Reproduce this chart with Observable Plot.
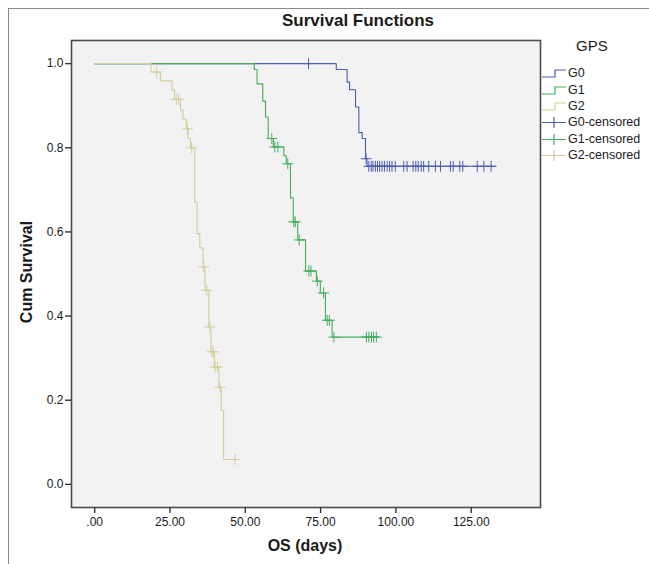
<!DOCTYPE html>
<html>
<head>
<meta charset="utf-8">
<script src="https://cdn.jsdelivr.net/npm/d3@7"></script>
<script src="https://cdn.jsdelivr.net/npm/@observablehq/plot@0.6"></script>
<style>
  html, body { margin: 0; padding: 0; background: #fff; }
  #wrap { position: relative; width: 649px; height: 564px; overflow: hidden; font-family: "Liberation Sans", Arial, sans-serif; color: #1a1a1a; }
  #frame { position: absolute; left: 8px; top: 8px; width: 700px; height: 700px; border: 1px solid #8a8a8a; box-sizing: border-box; }
  #title { position: absolute; left: 258px; width: 200px; top: 11px; text-align: center; font-weight: bold; font-size: 17px; }
  #xlabel { position: absolute; left: 205px; width: 200px; top: 537px; text-align: center; font-weight: bold; font-size: 16px; }
  #ylabel { position: absolute; left: 27px; top: 272px; transform: translate(-50%, -50%) rotate(-90deg); font-weight: bold; font-size: 16px; white-space: nowrap; }
  #legend { position: absolute; left: 541px; top: 37px; font-size: 12.5px; }
  #legend .head { font-size: 15px; margin-left: 35px; margin-bottom: 11px; }
  #legend .row { display: flex; align-items: center; height: 16.4px; }
  #legend svg { width: 26px; height: 14px; margin-right: 1px; }
  #chart { position: absolute; left: 0; top: 0; }
</style>
</head>
<body>
<div id="wrap">
  <div id="frame"></div>
  <div id="chart"></div>
  <div id="title">Survival Functions</div>
  <div id="xlabel">OS (days)</div>
  <div id="ylabel">Cum Survival</div>
  <div id="legend"></div>
</div>
<script>
// ---- data ----
const groups = ["G0", "G1", "G2"];
const groupColors = ["#4d5eae", "#46ad5a", "#d3cd9a"];
const legendTitle = "GPS";
const legendLabels = ["G0", "G1", "G2", "G0-censored", "G1-censored", "G2-censored"];

const xTicks = [0, 25, 50, 75, 100, 125];
const xTickLabels = [".00", "25.00", "50.00", "75.00", "100.00", "125.00"];
const yTicks = [0, 0.2, 0.4, 0.6, 0.8, 1.0];
const yTickLabels = ["0.0", "0.2", "0.4", "0.6", "0.8", "1.0"];

// G0
const g0EventTimes = [80.2, 83.8, 84.6, 86.6, 87.7, 88.8, 89.9, 90.4];
const g0Survival   = [0.986, 0.956, 0.938, 0.897, 0.836, 0.822, 0.774, 0.756];
const g0Censored   = [71.0, 90.1, 91.0, 91.8, 92.4, 93.2, 93.9, 94.6, 95.4, 96.2, 97.1, 97.9, 98.7, 99.8,
                      102.6, 103.7, 105.7, 106.6, 107.4, 108.4, 109.2, 110.9, 113.1, 114.8, 118.1, 119.0,
                      121.2, 122.2, 127.0, 129.2, 131.6];
const g0LastTime   = 133.0;

// G1
const g1EventTimes = [53.0, 53.9, 55.8, 56.7, 57.6, 59.3, 62.8, 63.6, 65.0, 65.9, 67.4, 70.0, 73.6, 74.9, 76.6, 78.8];
const g1Survival   = [0.986, 0.952, 0.911, 0.873, 0.822, 0.802, 0.781, 0.762, 0.681, 0.624, 0.581, 0.507, 0.483, 0.455, 0.390, 0.350];
const g1Censored   = [58.8, 59.8, 60.8, 64.1, 66.1, 66.6, 67.9, 71.1, 71.8, 73.9, 76.0, 77.2, 77.9, 79.4,
                      90.2, 91.0, 91.9, 92.6, 93.5];
const g1LastTime   = 94.3;

// G2
const g2EventTimes = [18.7, 21.8, 25.7, 26.5, 28.5, 29.3, 30.4, 31.0, 31.8, 33.2, 34.0, 34.9, 36.0, 36.6, 37.9, 38.6, 39.7, 41.2, 42.0, 42.8];
const g2Survival   = [0.980, 0.959, 0.937, 0.915, 0.890, 0.868, 0.845, 0.822, 0.800, 0.671, 0.596, 0.562, 0.517, 0.461, 0.374, 0.315, 0.279, 0.231, 0.176, 0.059];
const g2Censored   = [20.6, 27.1, 27.9, 30.8, 32.2, 36.2, 37.2, 38.2, 38.9, 39.4, 40.0, 40.8, 41.6, 46.6];
const g2LastTime   = 47.1;

// ---- build tables ----
const series = [
  {g: "G0", ev: g0EventTimes, s: g0Survival, c: g0Censored, last: g0LastTime},
  {g: "G1", ev: g1EventTimes, s: g1Survival, c: g1Censored, last: g1LastTime},
  {g: "G2", ev: g2EventTimes, s: g2Survival, c: g2Censored, last: g2LastTime}
];
const stepRows = [];
const censorRows = [];
for (const d of series) {
  stepRows.push({g: d.g, t: 0, s: 1});
  d.ev.forEach((t, i) => stepRows.push({g: d.g, t, s: d.s[i]}));
  stepRows.push({g: d.g, t: d.last, s: d.s[d.s.length - 1]});
  const survAt = t => { let v = 1; d.ev.forEach((e, i) => { if (e <= t) v = d.s[i]; }); return v; };
  d.c.forEach(t => censorRows.push({g: d.g, t, s: survAt(t)}));
}

const chart = Plot.plot({
  width: 649,
  height: 564,
  marginLeft: 71,
  marginRight: 109,
  marginTop: 40,
  marginBottom: 57,
  style: {fontFamily: "Liberation Sans, Arial, sans-serif", fontSize: "12px", color: "#1a1a1a", background: "transparent"},
  x: {domain: [-7.7, 148]},
  y: {domain: [-0.055, 1.055]},
  color: {domain: groups, range: groupColors},
  marks: [
    Plot.frame({fill: "#f1f2f1", stroke: null}),
    Plot.line(stepRows, {x: "t", y: "s", z: "g", stroke: "g", curve: "step-after", strokeWidth: 1.1}),
    Plot.dot(censorRows, {x: "t", y: "s", stroke: "g", symbol: "plus", r: 3.6, strokeWidth: 1}),
    Plot.frame({stroke: "#4a4a4a", strokeWidth: 1.6}),
    Plot.axisX({ticks: xTicks, tickFormat: (d) => xTickLabels[xTicks.indexOf(d)], tickSize: 6, tickPadding: 4, label: null, fontSize: 12, stroke: "#333", strokeWidth: 1.4}),
    Plot.axisY({ticks: yTicks, tickFormat: (d) => yTickLabels[yTicks.findIndex(v => Math.abs(v - d) < 1e-9)], tickSize: 6, tickPadding: 2, label: null, fontSize: 12, stroke: "#333", strokeWidth: 1.4})
  ]
});
document.getElementById("chart").appendChild(chart);

// ---- legend ----
const legend = document.getElementById("legend");
const head = document.createElement("div");
head.className = "head";
head.textContent = legendTitle;
legend.appendChild(head);
legendLabels.forEach((lab, i) => {
  const c = groupColors[i % 3];
  const row = document.createElement("div");
  row.className = "row";
  const ns = "http://www.w3.org/2000/svg";
  const svg = document.createElementNS(ns, "svg");
  svg.setAttribute("viewBox", "0 0 26 14");
  const p = document.createElementNS(ns, "path");
  p.setAttribute("fill", "none");
  p.setAttribute("stroke", c);
  p.setAttribute("stroke-width", "1.2");
  if (i < 3) p.setAttribute("d", "M1,11 H14 V4 H25");
  else p.setAttribute("d", "M1,7.5 H25 M13,2 V13");
  svg.appendChild(p);
  row.appendChild(svg);
  const t = document.createElement("span");
  t.textContent = lab;
  row.appendChild(t);
  legend.appendChild(row);
});
</script>
</body>
</html>
